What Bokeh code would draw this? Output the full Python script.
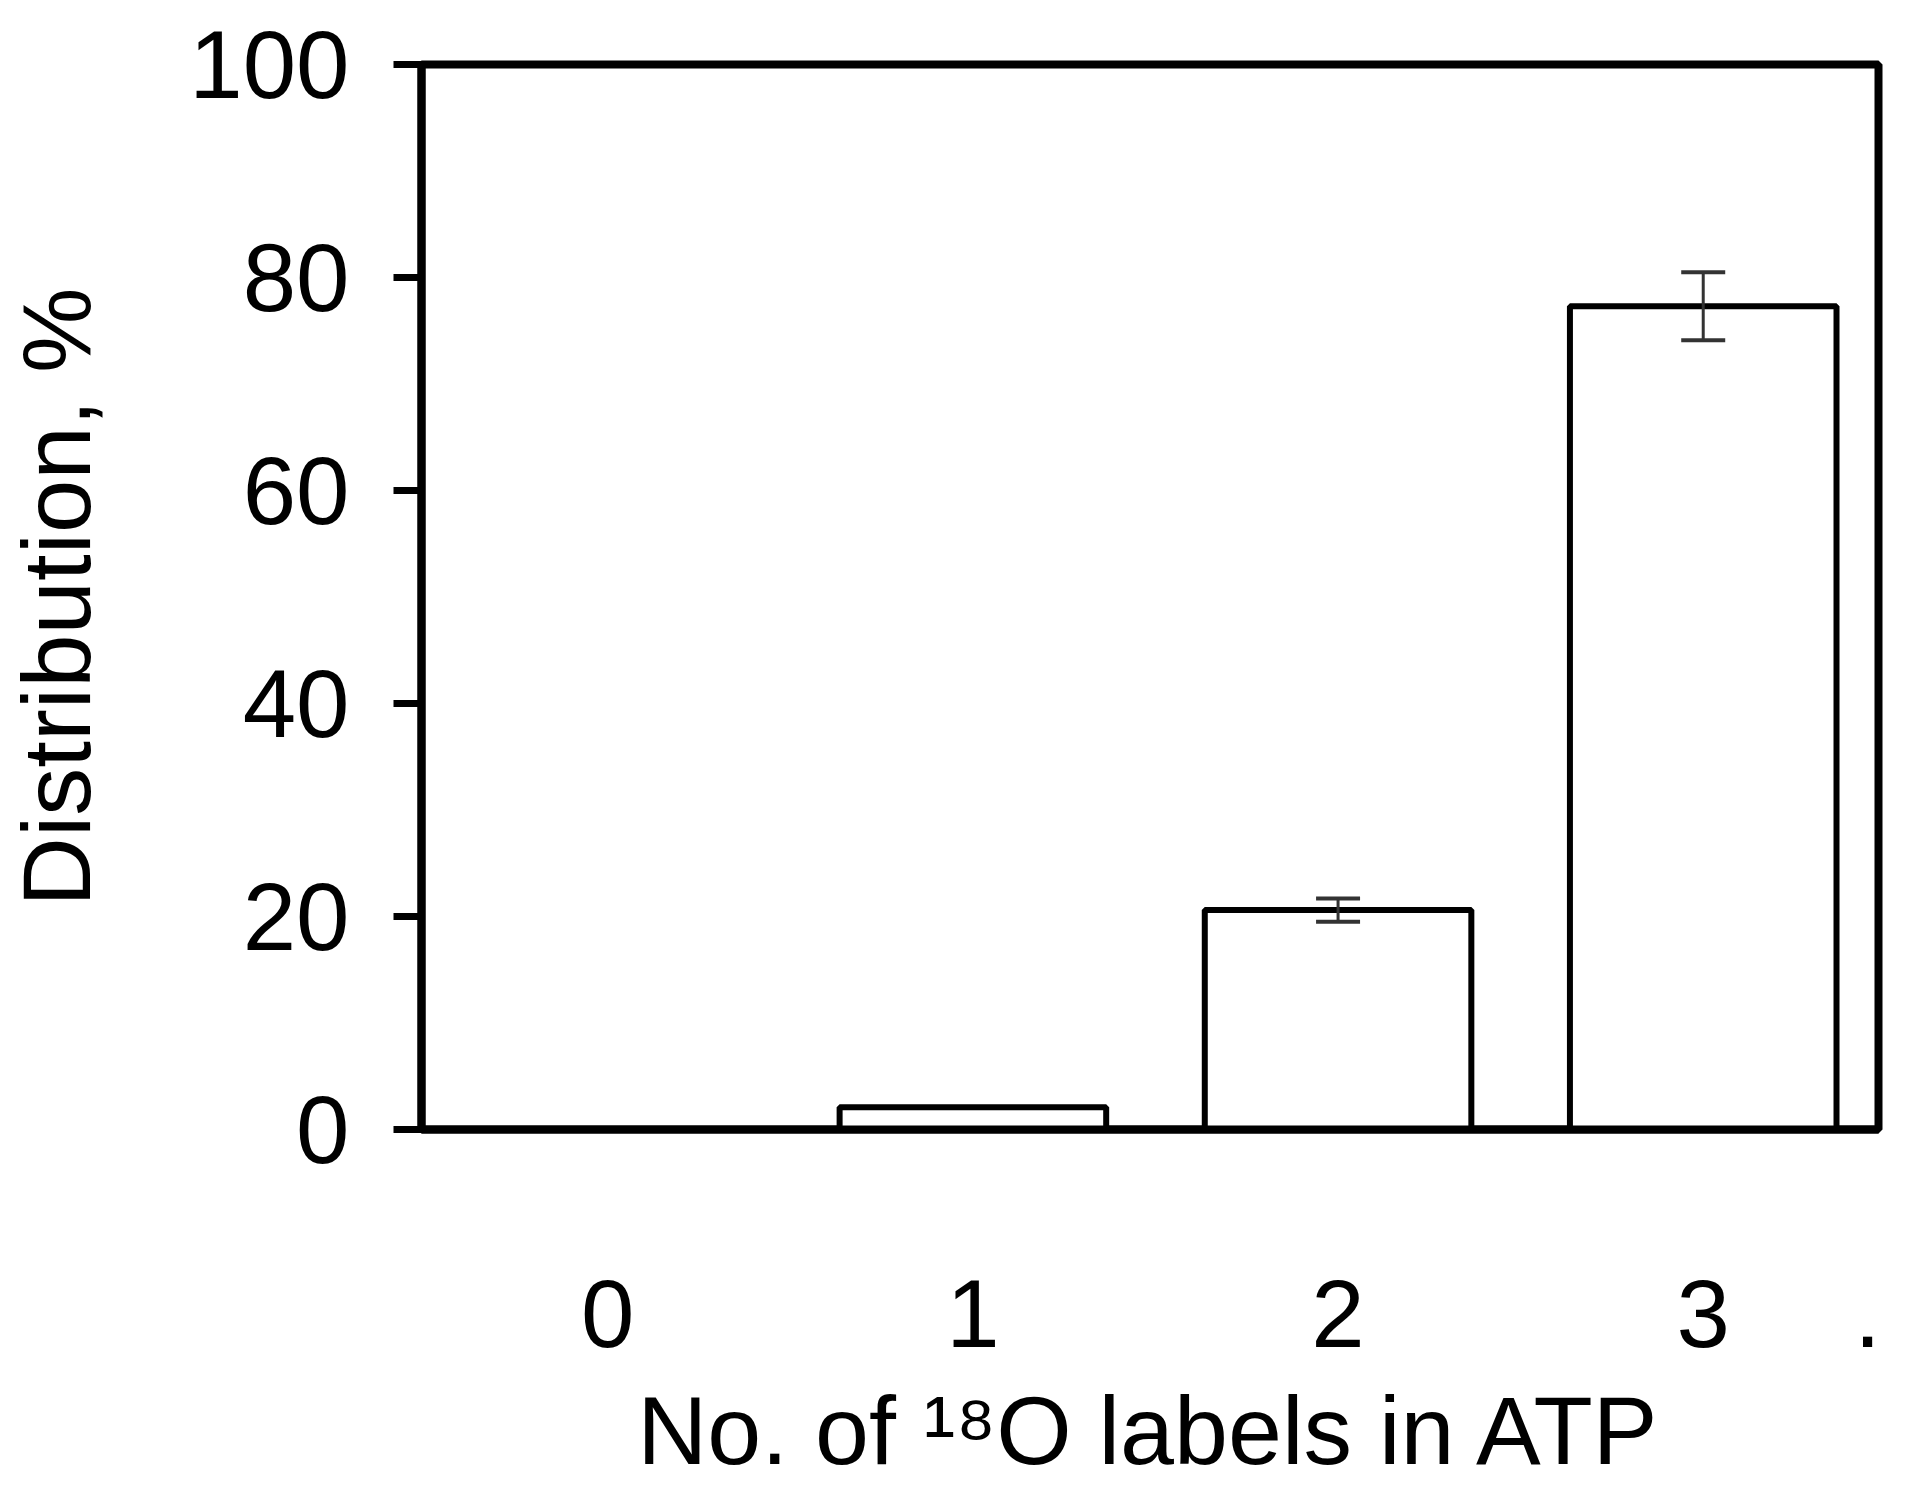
from bokeh.plotting import figure
from bokeh.models import ColumnDataSource, FixedTicker, Whisker, TeeHead
from bokeh.embed import file_html
from bokeh.resources import INLINE

# data
labels = ["0", "1", "2", "3"]
distribution = [0.0, 2.1, 20.6, 77.3]
errors = [0.0, 0.0, 1.1, 3.2]
y_ticks = [0, 20, 40, 60, 80, 100]
stray_label = "."

FONT = "Liberation Sans"
positions = list(range(len(labels)))

p = figure(width=1898, height=1487, x_range=(-0.51, 3.48), y_range=(0, 100),
           output_backend="svg", toolbar_location=None,
           min_border_left=420, min_border_right=20, min_border_top=64, min_border_bottom=340)

p.xgrid.visible = False
p.ygrid.visible = False
p.outline_line_color = "black"
p.outline_line_width = 8
p.background_fill_color = "white"
p.border_fill_color = "white"

# bars
p.vbar(x=positions, top=distribution, width=0.73, bottom=0,
       fill_color="white", line_color="black", line_width=6)

# error bars (only where there is one)
err_x = [x for x, e in zip(positions, errors) if e > 0]
err_up = [d + e for d, e in zip(distribution, errors) if e > 0]
err_lo = [d - e for d, e in zip(distribution, errors) if e > 0]
src = ColumnDataSource(data=dict(x=err_x, upper=err_up, lower=err_lo))
w = Whisker(source=src, base="x", upper="upper", lower="lower", level="overlay",
            line_color="#333333", line_width=3,
            upper_head=TeeHead(size=44, line_color="#333333", line_width=4),
            lower_head=TeeHead(size=44, line_color="#333333", line_width=4))
p.add_layout(w)

# y axis
ya = p.yaxis[0]
ya.ticker = FixedTicker(ticks=y_ticks)
ya.axis_line_width = 8
ya.axis_line_color = "black"
ya.major_tick_line_width = 7
ya.major_tick_line_color = "black"
ya.major_tick_out = 28
ya.major_tick_in = 0
ya.minor_tick_out = 0
ya.minor_tick_in = 0
ya.major_label_standoff = 44
ya.major_label_text_font = FONT
ya.major_label_text_font_size = "96px"
ya.major_label_text_color = "black"
ya.axis_label = "Distribution, %"
ya.axis_label_text_font = FONT
ya.axis_label_text_font_size = "96px"
ya.axis_label_text_font_style = "normal"
ya.axis_label_text_color = "black"
ya.axis_label_standoff = 76

# x axis
xa = p.xaxis[0]
xa.ticker = FixedTicker(ticks=positions + [3.45])
overrides = {k: v for k, v in zip(positions, labels)}
overrides[3.45] = stray_label
xa.major_label_overrides = overrides
xa.axis_line_width = 8
xa.axis_line_color = "black"
xa.major_tick_out = 0
xa.major_tick_in = 0
xa.minor_tick_out = 0
xa.minor_tick_in = 0
xa.major_label_standoff = 150
xa.major_label_text_font = FONT
xa.major_label_text_font_size = "96px"
xa.major_label_text_color = "black"
xa.axis_label = "No. of \u00b9\u2078O labels in ATP"
xa.axis_label_text_font = FONT
xa.axis_label_text_font_size = "97px"
xa.axis_label_text_font_style = "normal"
xa.axis_label_text_color = "black"
xa.axis_label_standoff = 26

open("out.html", "w").write(file_html(p, INLINE))
